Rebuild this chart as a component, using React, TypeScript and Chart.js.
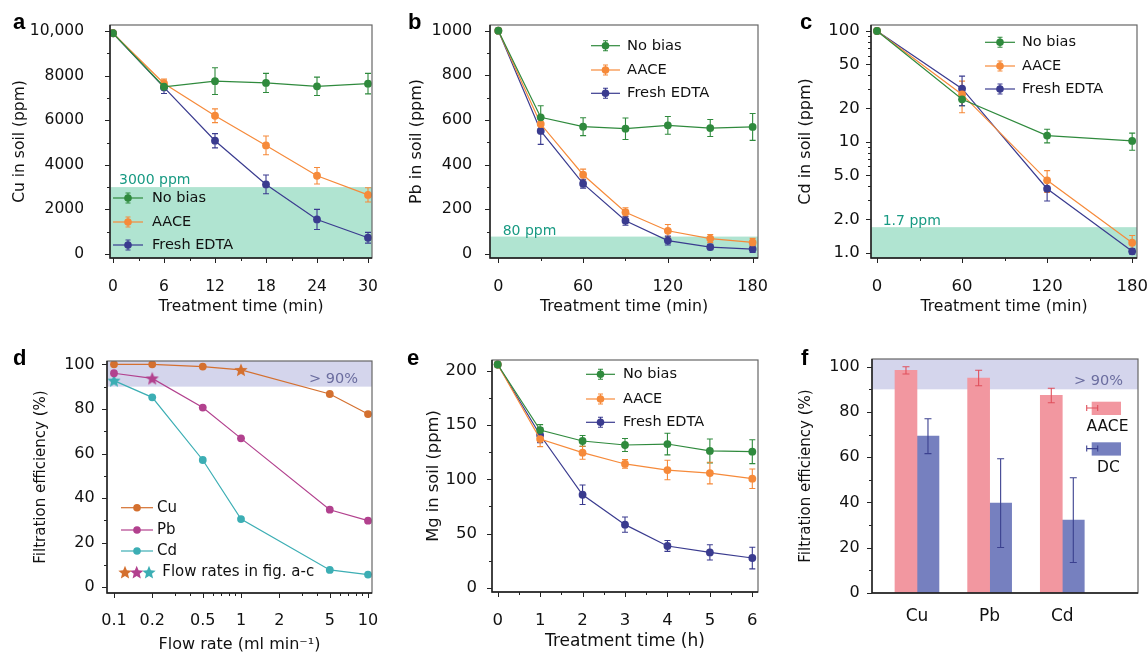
import React, { useEffect, useRef } from 'react';
import { Chart, registerables } from 'chart.js';

Chart.register(...registerables);

const FONT = '"DejaVu Sans", "Liberation Sans", sans-serif';
const LETTER_FONT = 'bold 22px "Liberation Sans", Arial, sans-serif';
const INK = '#111111';

const GREEN = '#2f8a3d';
const ORANGE = '#f68a3a';
const NAVY = '#3a3b8f';
const TEAL_BAND = '#b0e4d1';
const TEAL_TEXT = '#189a83';
const PURPLE_BAND = '#d4d5ec';
const PURPLE_TEXT = '#6b6d9f';
const CU_COLOR = '#d4702f';
const PB_COLOR = '#b2418e';
const CD_COLOR = '#3caeb4';
const AACE_BAR = '#f297a0';
const AACE_ERR = '#e0505c';
const DC_BAR = '#7680bf';
const DC_ERR = '#3b408f';

const seriesNames = ['No bias', 'AACE', 'Fresh EDTA'];

// ---------- Panel a : Cu ----------
const aTime = [0, 6, 12, 18, 24, 30];
const aNoBias = [9900, 7500, 7750, 7670, 7520, 7640];
const aNoBiasErr = [0, 120, 600, 430, 410, 460];
const aAace = [9900, 7650, 6200, 4870, 3510, 2650];
const aAaceErr = [0, 190, 310, 420, 370, 320];
const aEdta = [9900, 7470, 5080, 3120, 1550, 730];
const aEdtaErr = [0, 270, 320, 420, 450, 240];
const aLimit = 3000;
const aLimitLabel = '3000 ppm';
const aYTicks = [0, 2000, 4000, 6000, 8000, 10000];
const aYLabels = ['0', '2000', '4000', '6000', '8000', '10,000'];
const aYMinor = [1000, 3000, 5000, 7000, 9000];
const aXTicks = [0, 6, 12, 18, 24, 30];
const aXLabels = ['0', '6', '12', '18', '24', '30'];
const aXMinor = [3, 9, 15, 21, 27];

// ---------- Panel b : Pb ----------
const bTime = [0, 30, 60, 90, 120, 150, 180];
const bNoBias = [1000, 612, 570, 561, 576, 564, 569];
const bNoBiasErr = [0, 52, 40, 48, 40, 38, 60];
const bAace = [1000, 582, 355, 187, 104, 69, 52];
const bAaceErr = [0, 20, 25, 20, 28, 18, 18];
const bEdta = [1000, 551, 315, 149, 60, 31, 22];
const bEdtaErr = [0, 60, 20, 20, 20, 12, 15];
const bLimit = 78;
const bLimitLabel = '80 ppm';
const bYTicks = [0, 200, 400, 600, 800, 1000];
const bYLabels = ['0', '200', '400', '600', '800', '1000'];
const bYMinor = [100, 300, 500, 700, 900];
const bXTicks = [0, 60, 120, 180];
const bXLabels = ['0', '60', '120', '180'];
const bXMinor = [30, 90, 150];

// ---------- Panel c : Cd ----------
const cTime = [0, 60, 120, 180];
const cNoBias = [100, 24.2, 11.4, 10.2];
const cNoBiasErr = [0, 3, 1.6, 1.8];
const cAace = [100, 26.8, 4.5, 1.23];
const cAaceErr = [0, 8.5, 1.0, 0.2];
const cEdta = [100, 30.2, 3.78, 1.03];
const cEdtaErr = [0, 9, 0.85, 0.06];
const cLimit = 1.7;
const cLimitLabel = '1.7 ppm';
const cYTicks = [1, 2, 5, 10, 20, 50, 100];
const cYLabels = ['1.0', '2.0', '5.0', '10', '20', '50', '100'];
const cYMinor = [3, 4, 6, 7, 8, 9, 30, 40, 60, 70, 80, 90];
const cXTicks = [0, 60, 120, 180];
const cXLabels = ['0', '60', '120', '180'];
const cXMinor = [30, 90, 150];

// ---------- Panel d : filtration vs flow rate ----------
const dFlow = [0.1, 0.2, 0.5, 1, 5, 10];
const dCu = [100, 100, 99, 97.5, 86.7, 77.7];
const dPb = [96, 93.7, 80.6, 66.8, 34.8, 29.9];
const dCd = [92.7, 85.2, 57.1, 30.6, 7.8, 5.7];
const dCuStarFlow = 1;
const dPbStarFlow = 0.2;
const dCdStarFlow = 0.1;
const dMetals = ['Cu', 'Pb', 'Cd'];
const dStarLabel = 'Flow rates in fig. a-c';
const dThreshold = 90;
const dThresholdLabel = '> 90%';
const dYTicks = [0, 20, 40, 60, 80, 100];
const dYLabels = ['0', '20', '40', '60', '80', '100'];
const dYMinor = [10, 30, 50, 70, 90];
const dXTicks = [0.1, 0.2, 0.5, 1, 2, 5, 10];
const dXLabels = ['0.1', '0.2', '0.5', '1', '2', '5', '10'];
const dXMinor = [0.3, 0.4, 0.6, 0.7, 0.8, 0.9, 3, 4, 6, 7, 8, 9];

// ---------- Panel e : Mg ----------
const eTime = [0, 1, 2, 3, 4, 5, 6];
const eNoBias = [206, 145.5, 135.4, 131.7, 132.6, 126.2, 125.5];
const eNoBiasErr = [0, 5, 5, 6, 10, 11, 11];
const eAace = [206, 137.2, 124.6, 114.2, 108.6, 105.8, 100.6];
const eAaceErr = [0, 7, 6, 4, 9, 10, 9];
const eEdta = [206, 140.9, 85.8, 58.2, 38.5, 32.6, 27.4];
const eEdtaErr = [0, 7, 9, 7, 5, 7, 10];
const eYTicks = [0, 50, 100, 150, 200];
const eYLabels = ['0', '50', '100', '150', '200'];
const eYMinor = [25, 75, 125, 175];
const eXTicks = [0, 1, 2, 3, 4, 5, 6];
const eXLabels = ['0', '1', '2', '3', '4', '5', '6'];
const eXMinor = [0.5, 1.5, 2.5, 3.5, 4.5, 5.5];

// ---------- Panel f : AACE vs DC ----------
const fMetals = ['Cu', 'Pb', 'Cd'];
const fPos = [1, 2, 3];
const fAace = [98.4, 95, 87.3];
const fAaceErr = [1.6, 3.4, 3.2];
const fDc = [69.3, 39.7, 32.2];
const fDcErr = [7.7, 19.6, 18.7];
const fSeries = ['AACE', 'DC'];
const fThreshold = 90;
const fThresholdLabel = '> 90%';
const fYTicks = [0, 20, 40, 60, 80, 100];
const fYLabels = ['0', '20', '40', '60', '80', '100'];
const fYMinor = [10, 30, 50, 70, 90];

// ---------- drawing helpers ----------
function drawErrorBar(ctx: CanvasRenderingContext2D, x: number, y1: number, y2: number, color: string, cap: number) {
  ctx.save();
  ctx.strokeStyle = color;
  ctx.lineWidth = 1.1;
  ctx.beginPath();
  ctx.moveTo(x, y1);
  ctx.lineTo(x, y2);
  ctx.moveTo(x - cap, y1);
  ctx.lineTo(x + cap, y1);
  ctx.moveTo(x - cap, y2);
  ctx.lineTo(x + cap, y2);
  ctx.stroke();
  ctx.restore();
}

function drawStar(ctx: CanvasRenderingContext2D, cx: number, cy: number, r: number, color: string) {
  ctx.save();
  ctx.beginPath();
  for (let i = 0; i < 10; i++) {
    const ang = -Math.PI / 2 + (i * Math.PI) / 5;
    const rad = i % 2 === 0 ? r : r * 0.45;
    ctx.lineTo(cx + rad * Math.cos(ang), cy + rad * Math.sin(ang));
  }
  ctx.closePath();
  ctx.fillStyle = color;
  ctx.fill();
  ctx.restore();
}

function makeStarImage(color: string, r: number) {
  const c = document.createElement('canvas');
  const s = Math.ceil(r * 2 + 2);
  c.width = s;
  c.height = s;
  const ctx = c.getContext('2d')!;
  drawStar(ctx, s / 2, s / 2 + 0.5, r, color);
  return c;
}

function drawLineLegend(ctx: CanvasRenderingContext2D, lg: any, ox: number, oy: number) {
  ctx.save();
  lg.entries.forEach((e: any, i: number) => {
    const y = lg.rows[i] - oy;
    const a = lg.x0 - ox;
    const b = lg.x1 - ox;
    const m = (a + b) / 2;
    ctx.strokeStyle = e.color;
    ctx.lineWidth = 1.2;
    ctx.beginPath();
    ctx.moveTo(a, y);
    ctx.lineTo(b, y);
    ctx.stroke();
    if (lg.errors) drawErrorBar(ctx, m, y - 5, y + 5, e.color, 2.5);
    ctx.fillStyle = e.color;
    ctx.beginPath();
    ctx.arc(m, y, 3.8, 0, Math.PI * 2);
    ctx.fill();
    ctx.fillStyle = INK;
    ctx.font = `${lg.size}px ${FONT}`;
    ctx.textBaseline = 'middle';
    ctx.textAlign = 'left';
    ctx.fillText(e.label, lg.textX - ox, y);
  });
  ctx.restore();
}

function drawErrors(chart: any, spec: any) {
  const ctx = chart.ctx;
  const ys = chart.scales.y;
  spec.series.forEach((s: any, i: number) => {
    if (!s.errors) return;
    const meta = chart.getDatasetMeta(i);
    meta.data.forEach((el: any, j: number) => {
      const e = s.errors[j];
      if (!e) return;
      const v = s.values[j];
      const yT = ys.getPixelForValue(v + e);
      const yB = ys.getPixelForValue(v - e);
      drawErrorBar(ctx, el.x, yT, yB, s.errColor || s.color, s.cap || 3);
    });
  });
}

function drawAxesFrame(chart: any, spec: any) {
  const ctx = chart.ctx;
  const { left, right, top, bottom } = chart.chartArea;
  const xs = chart.scales.x;
  const ys = chart.scales.y;
  ctx.save();
  ctx.strokeStyle = '#222';
  ctx.lineWidth = 1;
  ctx.beginPath();
  const tickX = (vals: number[], len: number) => {
    vals.forEach((v) => {
      const p = Math.round(xs.getPixelForValue(v)) + 0.5;
      ctx.moveTo(p, bottom);
      ctx.lineTo(p, bottom + len);
    });
  };
  const tickY = (vals: number[], len: number) => {
    vals.forEach((v) => {
      const p = Math.round(ys.getPixelForValue(v)) + 0.5;
      ctx.moveTo(left, p);
      ctx.lineTo(left - len, p);
    });
  };
  if (spec.x.drawTicks !== false) {
    tickX(spec.x.ticks, 5);
    tickX(spec.x.minor || [], 3);
  }
  tickY(spec.y.ticks, 5);
  tickY(spec.y.minor || [], 3);
  ctx.stroke();
  ctx.strokeStyle = '#666';
  ctx.lineWidth = 1.2;
  ctx.strokeRect(left, top, right - left, bottom - top);
  ctx.strokeStyle = '#1a1a1a';
  ctx.lineWidth = 1.4;
  ctx.beginPath();
  ctx.moveTo(left, top);
  ctx.lineTo(left, bottom);
  ctx.lineTo(right, bottom);
  ctx.stroke();
  ctx.restore();
}

function makePlugin(spec: any) {
  const ox = spec.box.x;
  const oy = spec.box.y;
  return {
    id: 'deco_' + spec.letter,
    beforeDatasetsDraw(chart: any) {
      const ctx = chart.ctx;
      const { left, right, top, bottom } = chart.chartArea;
      const ys = chart.scales.y;
      ctx.save();
      (spec.bands || []).forEach((b: any) => {
        const yA = b.from === null ? bottom : ys.getPixelForValue(b.from);
        const yB = b.to === null ? top : ys.getPixelForValue(b.to);
        ctx.fillStyle = b.color;
        ctx.fillRect(left, Math.min(yA, yB), right - left, Math.abs(yA - yB));
      });
      ctx.restore();
      if (!spec.errorsOnTop) drawErrors(chart, spec);
    },
    afterDatasetsDraw(chart: any) {
      const ctx = chart.ctx;
      const { left, right } = chart.chartArea;
      const ys = chart.scales.y;
      if (spec.errorsOnTop) drawErrors(chart, spec);
      drawAxesFrame(chart, spec);
      ctx.save();
      (spec.bands || []).forEach((b: any) => {
        const edgeVal = b.labelEdge === 'top' ? b.to : b.from;
        const yEdge = ys.getPixelForValue(edgeVal);
        ctx.fillStyle = b.labelColor;
        ctx.font = `${b.size}px ${FONT}`;
        ctx.textBaseline = 'alphabetic';
        if (b.align === 'right') {
          ctx.textAlign = 'right';
          ctx.fillText(b.label, right - b.dx, yEdge + b.dy);
        } else {
          ctx.textAlign = 'left';
          ctx.fillText(b.label, left + b.dx, yEdge + b.dy);
        }
      });
      ctx.restore();
      if (spec.legend) spec.legend(ctx, ox, oy);
      ctx.save();
      ctx.fillStyle = '#000';
      ctx.font = LETTER_FONT;
      ctx.textAlign = 'left';
      ctx.textBaseline = 'alphabetic';
      ctx.fillText(spec.letter, spec.letterPos[0] - ox, spec.letterPos[1] - oy);
      ctx.restore();
    },
  };
}

function makeScale(spec: any, which: 'x' | 'y') {
  const ax = which === 'x' ? spec.x : spec.y;
  const [L, , , B] = spec.area;
  const box = spec.box;
  const tickLH = ax.tickSize * 1.2;
  const titleLH = (ax.titleSize || 15) * 1.2;
  return {
    type: ax.type,
    min: ax.min,
    max: ax.max,
    bounds: 'data',
    offset: false,
    grid: { display: false },
    border: { display: false },
    ticks: {
      autoSkip: false,
      maxRotation: 0,
      minRotation: 0,
      color: INK,
      font: { family: FONT, size: ax.tickSize },
      padding: which === 'x' ? ax.labelPos - B - tickLH / 2 : L - ax.labelPos - 1,
      callback: (_v: any, i: number) => ax.labels[i],
    },
    title: ax.title
      ? {
          display: true,
          text: ax.title,
          color: INK,
          font: { family: FONT, size: ax.titleSize },
          padding:
            which === 'x'
              ? { top: 0, bottom: box.y + box.h - ax.titleCenter - titleLH / 2 }
              : { top: ax.titleCenter - box.x - titleLH / 2, bottom: 0 },
        }
      : { display: false },
    afterBuildTicks: (s: any) => {
      s.ticks = ax.ticks.map((v: number) => ({ value: v }));
    },
    afterFit: (s: any) => {
      if (which === 'x') s.height = box.y + box.h - B;
      else s.width = L - box.x;
      s.paddingLeft = 0;
      s.paddingRight = 0;
      s.paddingTop = 0;
      s.paddingBottom = 0;
    },
  };
}

function buildConfig(spec: any) {
  const [, T, R] = spec.area;
  const box = spec.box;
  let datasets: any[];
  if (spec.kind === 'bar') {
    datasets = spec.series.map((s: any) => ({
      type: 'bar',
      label: s.label,
      data: s.xs.map((x: number, i: number) => ({ x, y: s.values[i] })),
      backgroundColor: s.color,
      borderWidth: 0,
      barThickness: 22,
    }));
  } else {
    datasets = spec.series.map((s: any) => ({
      type: 'line',
      label: s.label,
      data: s.xs.map((x: number, i: number) => ({ x, y: s.values[i] })),
      borderColor: s.color,
      backgroundColor: s.color,
      borderWidth: 1.2,
      pointRadius: 3.9,
      pointBorderWidth: 0,
      pointBackgroundColor: s.color,
      pointStyle: s.pointStyle || 'circle',
      tension: 0,
      fill: false,
    }));
  }
  return {
    type: spec.kind === 'bar' ? 'bar' : 'line',
    data: { datasets },
    options: {
      animation: false,
      responsive: false,
      maintainAspectRatio: false,
      devicePixelRatio: 1,
      events: [],
      layout: {
        padding: { left: 0, top: T - box.y, right: box.x + box.w - R, bottom: 0 },
      },
      plugins: { legend: { display: false }, tooltip: { enabled: false }, title: { display: false } },
      scales: { x: makeScale(spec, 'x'), y: makeScale(spec, 'y') },
    },
    plugins: [makePlugin(spec)],
  };
}

// ---------- panel specs ----------
const lineEntries = [
  { label: seriesNames[0], color: GREEN },
  { label: seriesNames[1], color: ORANGE },
  { label: seriesNames[2], color: NAVY },
];

function tripleSeries(xs: number[], v: number[][], e: number[][]) {
  return [
    { label: seriesNames[0], color: GREEN, xs, values: v[0], errors: e[0] },
    { label: seriesNames[1], color: ORANGE, xs, values: v[1], errors: e[1] },
    { label: seriesNames[2], color: NAVY, xs, values: v[2], errors: e[2] },
  ];
}

const specA = {
  kind: 'line',
  letter: 'a',
  letterPos: [13, 29],
  box: { x: 0, y: 0, w: 380, h: 325 },
  area: [110, 25, 372, 258],
  x: { type: 'linear', min: -0.353, max: 30.47, ticks: aXTicks, labels: aXLabels, minor: aXMinor, tickSize: 15.5, labelPos: 279, title: 'Treatment time (min)', titleSize: 15.5, titleCenter: 307 },
  y: { type: 'linear', min: -179, max: 10269, ticks: aYTicks, labels: aYLabels, minor: aYMinor, tickSize: 15.5, labelPos: 91, title: 'Cu in soil (ppm)', titleSize: 15.5, titleCenter: 20 },
  series: tripleSeries(aTime, [aNoBias, aAace, aEdta], [aNoBiasErr, aAaceErr, aEdtaErr]),
  bands: [{ from: null, to: aLimit, color: TEAL_BAND, label: aLimitLabel, labelColor: TEAL_TEXT, labelEdge: 'top', align: 'left', dx: 9, dy: -3, size: 14 }],
  legend: (ctx: any, ox: number, oy: number) =>
    drawLineLegend(ctx, { entries: lineEntries, x0: 113, x1: 143, textX: 152, rows: [198, 222, 245], size: 14.5, errors: true }, ox, oy),
};

const specB = {
  kind: 'line',
  letter: 'b',
  letterPos: [408, 29],
  box: { x: 380, y: 0, w: 390, h: 325 },
  area: [490, 25, 758, 258],
  x: { type: 'linear', min: -5.9, max: 183.8, ticks: bXTicks, labels: bXLabels, minor: bXMinor, tickSize: 16, labelPos: 279, title: 'Treatment time (min)', titleSize: 15.8, titleCenter: 307 },
  y: { type: 'linear', min: -17.9, max: 1025.4, ticks: bYTicks, labels: bYLabels, minor: bYMinor, tickSize: 16, labelPos: 479.3, title: 'Pb in soil (ppm)', titleSize: 16, titleCenter: 416.5 },
  series: tripleSeries(bTime, [bNoBias, bAace, bEdta], [bNoBiasErr, bAaceErr, bEdtaErr]),
  bands: [{ from: null, to: bLimit, color: TEAL_BAND, label: bLimitLabel, labelColor: TEAL_TEXT, labelEdge: 'top', align: 'left', dx: 12.7, dy: -2, size: 14 }],
  legend: (ctx: any, ox: number, oy: number) =>
    drawLineLegend(ctx, { entries: lineEntries, x0: 591, x1: 620, textX: 627, rows: [45.7, 70, 93.3], size: 14.7, errors: true }, ox, oy),
};

const specC = {
  kind: 'line',
  letter: 'c',
  letterPos: [800, 29],
  box: { x: 770, y: 0, w: 378, h: 325 },
  area: [871, 25, 1137, 258],
  x: { type: 'linear', min: -4.23, max: 183.4, ticks: cXTicks, labels: cXLabels, minor: cXMinor, tickSize: 16.5, labelPos: 279, title: 'Treatment time (min)', titleSize: 15.7, titleCenter: 306.5 },
  y: { type: 'logarithmic', min: 0.896, max: 113.3, ticks: cYTicks, labels: cYLabels, minor: cYMinor, tickSize: 16.5, labelPos: 866.7, title: 'Cd in soil (ppm)', titleSize: 16, titleCenter: 806 },
  series: tripleSeries(cTime, [cNoBias, cAace, cEdta], [cNoBiasErr, cAaceErr, cEdtaErr]),
  bands: [{ from: null, to: cLimit, color: TEAL_BAND, label: cLimitLabel, labelColor: TEAL_TEXT, labelEdge: 'top', align: 'left', dx: 11.7, dy: -2, size: 14 }],
  legend: (ctx: any, ox: number, oy: number) =>
    drawLineLegend(ctx, { entries: lineEntries, x0: 985, x1: 1015, textX: 1022, rows: [42.3, 66, 89], size: 14.5, errors: true }, ox, oy),
};

function makeSpecD() {
  const cuStar = makeStarImage(CU_COLOR, 7);
  const pbStar = makeStarImage(PB_COLOR, 7);
  const cdStar = makeStarImage(CD_COLOR, 7);
  const styles = (starFlow: number, img: any) => dFlow.map((f) => (f === starFlow ? img : 'circle'));
  return {
    kind: 'line',
    letter: 'd',
    letterPos: [13, 365],
    box: { x: 0, y: 320, w: 380, h: 340 },
    area: [107, 361, 372, 593],
    x: { type: 'logarithmic', min: 0.0881, max: 10.75, ticks: dXTicks, labels: dXLabels, minor: dXMinor, tickSize: 16, labelPos: 612.5, title: 'Flow rate (ml min\u207B\u00B9)', titleSize: 16, titleCenter: 645 },
    y: { type: 'linear', min: -2.56, max: 101.5, ticks: dYTicks, labels: dYLabels, minor: dYMinor, tickSize: 16, labelPos: 101.7, title: 'Filtration efficiency (%)', titleSize: 15, titleCenter: 41 },
    series: [
      { label: dMetals[0], color: CU_COLOR, xs: dFlow, values: dCu, pointStyle: styles(dCuStarFlow, cuStar) },
      { label: dMetals[1], color: PB_COLOR, xs: dFlow, values: dPb, pointStyle: styles(dPbStarFlow, pbStar) },
      { label: dMetals[2], color: CD_COLOR, xs: dFlow, values: dCd, pointStyle: styles(dCdStarFlow, cdStar) },
    ],
    bands: [{ from: dThreshold, to: null, color: PURPLE_BAND, label: dThresholdLabel, labelColor: PURPLE_TEXT, labelEdge: 'bottom', align: 'right', dx: 14, dy: -4, size: 14.5 }],
    legend: (ctx: any, ox: number, oy: number) => {
      drawLineLegend(
        ctx,
        {
          entries: [
            { label: dMetals[0], color: CU_COLOR },
            { label: dMetals[1], color: PB_COLOR },
            { label: dMetals[2], color: CD_COLOR },
          ],
          x0: 121, x1: 153, textX: 157, rows: [507.7, 530, 551], size: 15, errors: false,
        },
        ox, oy
      );
      const y = 572.3 - oy;
      drawStar(ctx, 125 - ox, y + 0.5, 7, CU_COLOR);
      drawStar(ctx, 136.7 - ox, y + 0.5, 7, PB_COLOR);
      drawStar(ctx, 149 - ox, y + 0.5, 7, CD_COLOR);
      ctx.save();
      ctx.fillStyle = INK;
      ctx.font = `15px ${FONT}`;
      ctx.textBaseline = 'middle';
      ctx.textAlign = 'left';
      ctx.fillText(dStarLabel, 162.3 - ox, y);
      ctx.restore();
    },
  };
}

const specE = {
  kind: 'line',
  letter: 'e',
  letterPos: [407, 365],
  box: { x: 380, y: 320, w: 390, h: 340 },
  area: [492, 360, 758, 592],
  x: { type: 'linear', min: -0.134, max: 6.134, ticks: eXTicks, labels: eXLabels, minor: eXMinor, tickSize: 16.5, labelPos: 613, title: 'Treatment time (h)', titleSize: 17, titleCenter: 641.5 },
  y: { type: 'linear', min: -3.97, max: 210.15, ticks: eYTicks, labels: eYLabels, minor: eYMinor, tickSize: 16.5, labelPos: 484, title: 'Mg in soil (ppm)', titleSize: 16.3, titleCenter: 434 },
  series: tripleSeries(eTime, [eNoBias, eAace, eEdta], [eNoBiasErr, eAaceErr, eEdtaErr]),
  bands: [],
  legend: (ctx: any, ox: number, oy: number) =>
    drawLineLegend(ctx, { entries: lineEntries, x0: 586, x1: 615, textX: 623, rows: [374.3, 399, 422.3], size: 14.5, errors: true }, ox, oy),
};

const specF = {
  kind: 'bar',
  letter: 'f',
  letterPos: [801, 365],
  errorsOnTop: true,
  box: { x: 770, y: 320, w: 378, h: 340 },
  area: [872, 359, 1138, 593],
  x: { type: 'linear', min: 0.381, max: 4.042, ticks: fPos, labels: fMetals, minor: [], tickSize: 17, labelPos: 608.5, drawTicks: false },
  y: { type: 'linear', min: 0, max: 103.4, ticks: fYTicks, labels: fYLabels, minor: fYMinor, tickSize: 16, labelPos: 866.7, title: 'Filtration efficiency (%)', titleSize: 15, titleCenter: 806 },
  series: [
    { label: fSeries[0], color: AACE_BAR, errColor: AACE_ERR, cap: 3.5, xs: fPos, values: fAace, errors: fAaceErr },
    { label: fSeries[1], color: DC_BAR, errColor: DC_ERR, cap: 3.5, xs: fPos, values: fDc, errors: fDcErr },
  ],
  bands: [{ from: fThreshold, to: null, color: PURPLE_BAND, label: fThresholdLabel, labelColor: PURPLE_TEXT, labelEdge: 'bottom', align: 'right', dx: 15, dy: -4, size: 14.5 }],
  legend: (ctx: any, ox: number, oy: number) => {
    const items = [
      { label: fSeries[0], bar: AACE_BAR, err: AACE_ERR, rectY: 401.7, textY: 427, textX: 1107.5 },
      { label: fSeries[1], bar: DC_BAR, err: DC_ERR, rectY: 442.3, textY: 468, textX: 1108.5 },
    ];
    items.forEach((it) => {
      ctx.save();
      ctx.fillStyle = it.bar;
      ctx.fillRect(1091.7 - ox, it.rectY - oy, 29.3, 13.3);
      const y = it.rectY + 6.3 - oy;
      ctx.strokeStyle = it.err;
      ctx.lineWidth = 1.1;
      ctx.beginPath();
      ctx.moveTo(1086.7 - ox, y);
      ctx.lineTo(1097.7 - ox, y);
      ctx.moveTo(1086.7 - ox, y - 3);
      ctx.lineTo(1086.7 - ox, y + 3);
      ctx.moveTo(1097.7 - ox, y - 3);
      ctx.lineTo(1097.7 - ox, y + 3);
      ctx.stroke();
      ctx.fillStyle = INK;
      ctx.font = `15.5px ${FONT}`;
      ctx.textAlign = 'center';
      ctx.textBaseline = 'middle';
      ctx.fillText(it.label, it.textX - ox, it.textY - oy);
      ctx.restore();
    });
  },
};

function Panel({ spec }: { spec: any }) {
  const ref = useRef<HTMLCanvasElement>(null);
  useEffect(() => {
    if (!ref.current) return;
    const chart = new Chart(ref.current, buildConfig(spec) as any);
    return () => chart.destroy();
  }, [spec]);
  return (
    <canvas
      ref={ref}
      width={spec.box.w}
      height={spec.box.h}
      style={{ position: 'absolute', left: spec.box.x, top: spec.box.y, width: spec.box.w, height: spec.box.h }}
    />
  );
}

const specD = makeSpecD();
const specs = [specA, specB, specC, specD, specE, specF];

export default function App() {
  return (
    <div
      style={{
        position: 'absolute',
        left: 0,
        top: 0,
        width: 1148,
        height: 652,
        overflow: 'hidden',
        background: '#ffffff',
      }}
    >
      {specs.map((s) => (
        <Panel key={s.letter} spec={s} />
      ))}
    </div>
  );
}
